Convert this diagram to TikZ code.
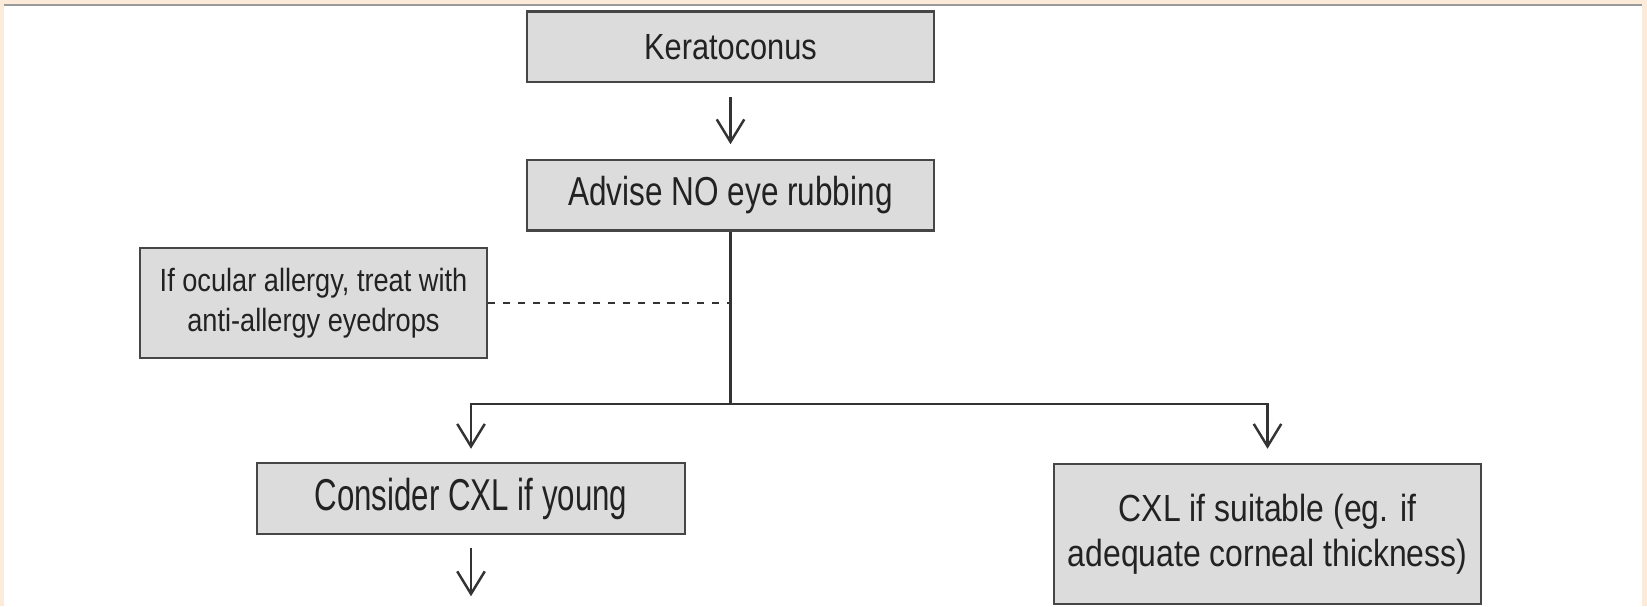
\documentclass[tikz,border=0pt]{standalone}
\usepackage{fontspec}
\setmainfont[FakeStretch=0.845]{Liberation Sans}
\newfontfamily\midface[FakeStretch=0.78]{Liberation Sans}
\newfontfamily\narrowface[FakeStretch=0.70]{Liberation Sans}
\usepackage{tikz}
\usetikzlibrary{arrows.meta,positioning}
\definecolor{Peach}{HTML}{FCEBD9}
\definecolor{Rule}{HTML}{9A9A9A}
\definecolor{BoxFill}{HTML}{DCDCDC}
\definecolor{BoxLine}{HTML}{464646}
\definecolor{Ink}{HTML}{222222}
\definecolor{Wire}{HTML}{333333}

\begin{document}
\begin{tikzpicture}[
  box/.style={draw=BoxLine,fill=BoxFill,line width=1.4pt,inner sep=0pt,align=center,text=Ink,font=\fontsize{20.7}{25.6}\selectfont},
  smallbox/.style={box,font=\fontsize{18.3}{22.8}\selectfont},
  link/.style={draw=Wire,line width=1.3pt},
  arrow/.style={link,-{Straight Barb[length=4.5mm,width=5.5mm,line width=1.4pt]}},
  dashlink/.style={draw=Wire,line width=0.9pt,dash pattern=on 4pt off 4.5pt}
]
% frame
\fill[Peach] (0,0) rectangle (32.94,-12.12);
\fill[white] (0.08,-0.12) rectangle (32.84,-12.12);
\draw[Rule,line width=1.2pt] (0.08,-0.1) -- (32.84,-0.1);
\useasboundingbox (0,0) rectangle (32.94,-12.12);

\node[box,minimum width=8.14cm,minimum height=1.41cm] (kc) at (14.61,-0.935) {Keratoconus};
\node[box,minimum width=8.14cm,minimum height=1.41cm,below=1.51cm of kc,font=\midface\fontsize{23}{27}\selectfont] (advise) {Advise NO eye rubbing};
\node[smallbox,minimum width=6.94cm,minimum height=2.2cm] (allergy) at (6.27,-6.06) {If ocular allergy, treat with\\anti-allergy eyedrops};
\node[box,minimum width=8.56cm,minimum height=1.42cm,font=\narrowface\fontsize{25.4}{30}\selectfont] (young) at (9.42,-9.97) {Consider CXL if young};
\node[box,minimum width=8.54cm,minimum height=2.8cm,font=\fontsize{21.5}{25.6}\selectfont] (suitable) at (25.35,-10.68) {CXL if suitable (eg. if\\adequate corneal thickness)};

\coordinate[below=3.44cm of advise.south] (split);
\coordinate[below=1.22cm of young.south] (next);

\draw[arrow,shorten <=0.28cm,shorten >=0.29cm] (kc) -- (advise);
\draw[link] (advise) -- (split);
\draw[dashlink] (allergy.east) -- (allergy.east -| advise.south);
\draw[arrow,shorten >=0.26cm] (split) -| (young);
\draw[arrow,shorten >=0.28cm] (split) -| (suitable);
\draw[arrow,shorten <=0.26cm] (young) -- (next);
\end{tikzpicture}
\end{document}
